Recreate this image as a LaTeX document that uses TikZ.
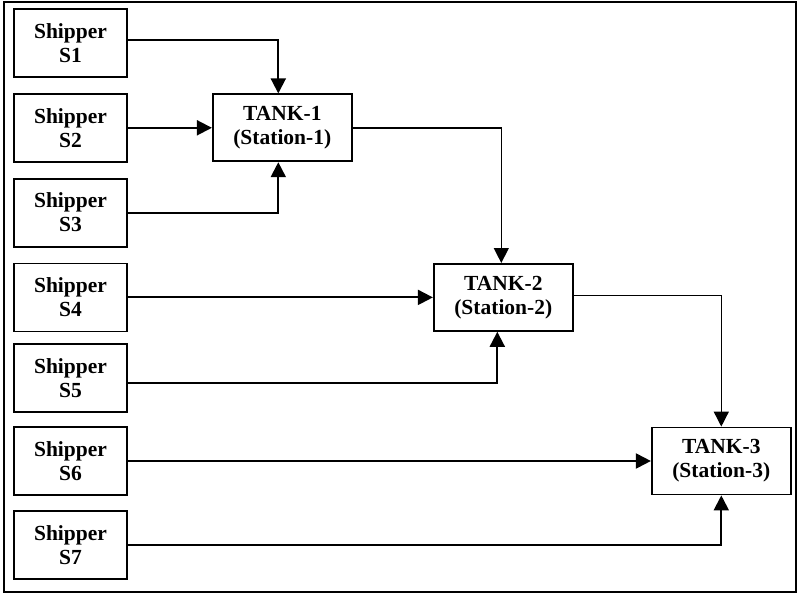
\documentclass[tikz,border=0pt]{standalone}
\usepackage{fontspec}
\setmainfont{Liberation Serif}
\usetikzlibrary{arrows.meta, positioning}
\tikzset{
  shipper/.style={draw, line width=1.8pt, align=center, font=\fontsize{21.5}{24}\selectfont\bfseries, minimum width=113pt, minimum height=68pt, inner sep=0pt},
  tank/.style={draw, line width=1.8pt, align=center, font=\fontsize{21.5}{24}\selectfont\bfseries, minimum width=139pt, minimum height=67pt, inner sep=0pt},
  arr/.style={-{Triangle[length=15pt, width=15pt]}, line width=2pt},
  flow/.style={-{Triangle[length=15pt, width=15pt]}, line width=1.4pt},
}
\begin{document}
\begin{tikzpicture}[x=1pt, y=1pt, node distance=15pt and 84pt]
    \useasboundingbox (0,0) rectangle (798,-594);
    \draw[line width=1.8pt] (4,-2) rectangle (796,-592);
    % shippers
    \node[shipper] (s1) at (70.5,-43) {Shipper\\S1};
    \node[shipper, below=of s1] (s2) {Shipper\\S2};
    \node[shipper, below=of s2] (s3) {Shipper\\S3};
    \node[shipper, below=of s3] (s4) {Shipper\\S4};
    \node[shipper, below=11pt of s4] (s5) {Shipper\\S5};
    \node[shipper, below=13pt of s5] (s6) {Shipper\\S6};
    \node[shipper, below=14pt of s6] (s7) {Shipper\\S7};
    % tanks
    \node[tank, right=of s2] (t1) {TANK-1\\(Station-1)};
    \node[tank, right=305pt of s4] (t2) {TANK-2\\(Station-2)};
    \node[tank, right=523pt of s6] (t3) {TANK-3\\(Station-3)};
    % connections
    \draw[arr] ([yshift=3pt]s1.east) -| ([xshift=-4pt]t1.north);
    \draw[arr] (s2) -- (t1);
    \draw[arr] (s3.east) -| ([xshift=-4pt]t1.south);
    \draw[flow] (t1.east) -| ([xshift=-2pt]t2.north);
    \draw[arr] (s4.east) -- (s4.east -| t2.west);
    \draw[arr] ([yshift=-5pt]s5.east) -| ([xshift=-6pt]t2.south);
    \draw[flow] ([yshift=2pt]t2.east) -| (t3.north);
    \draw[arr] (s6.east) -- (s6.east -| t3.west);
    \draw[arr] (s7.east) -| (t3.south);
\end{tikzpicture}
\end{document}
